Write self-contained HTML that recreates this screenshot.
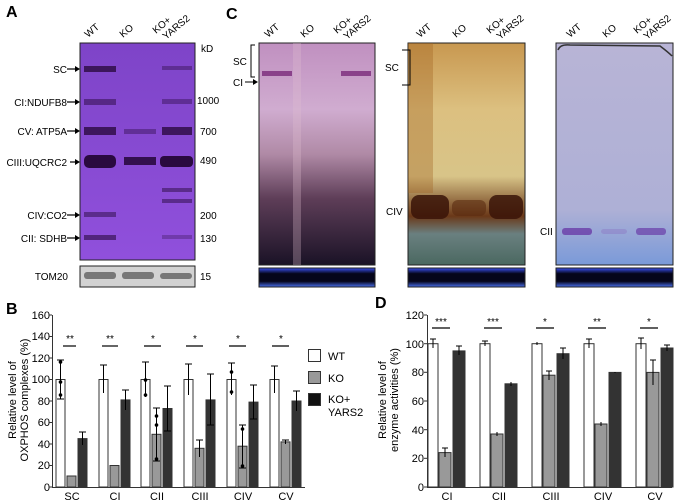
<!DOCTYPE html>
<html><head><meta charset="utf-8"><style>
html,body{margin:0;padding:0;background:#fff;}
svg{display:block;font-family:"Liberation Sans",Arial,sans-serif;}
</style></head><body>
<svg width="677" height="502" viewBox="0 0 677 502" xmlns="http://www.w3.org/2000/svg">
<defs>
<linearGradient id="gA" x1="0" y1="0" x2="0" y2="1"><stop offset="0" stop-color="#7e44c8"/><stop offset="1" stop-color="#9050dc"/></linearGradient>
<linearGradient id="gC1" x1="0" y1="0" x2="0" y2="1"><stop offset="0" stop-color="#c090c0"/><stop offset="0.3" stop-color="#d0acd0"/><stop offset="0.5" stop-color="#b08aa6"/><stop offset="0.7" stop-color="#5e3e58"/><stop offset="1" stop-color="#1a1226"/></linearGradient>
<linearGradient id="gC2" x1="0" y1="0" x2="0" y2="1"><stop offset="0" stop-color="#c89850"/><stop offset="0.3" stop-color="#dcc080"/><stop offset="0.6" stop-color="#d8c488"/><stop offset="0.78" stop-color="#6a3818"/><stop offset="0.86" stop-color="#6a8080"/><stop offset="1" stop-color="#4a6860"/></linearGradient>
<linearGradient id="gC3" x1="0" y1="0" x2="0" y2="1"><stop offset="0" stop-color="#b8b4d6"/><stop offset="0.75" stop-color="#aeb0d6"/><stop offset="1" stop-color="#7a9ad8"/></linearGradient>
<linearGradient id="gBl" x1="0" y1="0" x2="0" y2="1"><stop offset="0" stop-color="#3a50f0"/><stop offset="0.3" stop-color="#05051a"/><stop offset="0.7" stop-color="#05051a"/><stop offset="1" stop-color="#4a70f0"/></linearGradient>
</defs>

<!-- Panel A -->
<text x="6" y="17" font-size="16" font-weight="bold">A</text>
<g font-size="10">
<text transform="translate(88,38) rotate(-40)">WT</text>
<text transform="translate(123,38) rotate(-40)">KO</text>
<text transform="translate(156,34) rotate(-40)">KO+</text>
<text transform="translate(166,40) rotate(-40)">YARS2</text>
</g>
<rect x="80" y="43" width="115" height="217" fill="url(#gA)" stroke="#222" stroke-width="1"/>
<g fill="#2a0a40">
<rect x="84" y="66" width="32" height="6" opacity="0.8"/>
<rect x="162" y="66" width="30" height="4" opacity="0.4"/>
<rect x="84" y="99" width="32" height="6" opacity="0.5"/>
<rect x="162" y="99" width="30" height="5" opacity="0.4"/>
<rect x="84" y="127" width="32" height="8" opacity="0.8"/>
<rect x="124" y="129" width="32" height="5" opacity="0.4"/>
<rect x="162" y="127" width="30" height="8" opacity="0.8"/>
<rect x="84" y="155" width="32" height="13" rx="5" opacity="1"/>
<rect x="124" y="157" width="32" height="8" opacity="0.9"/>
<rect x="160" y="156" width="33" height="11" rx="4" opacity="1"/>
<rect x="162" y="188" width="30" height="4" opacity="0.5"/>
<rect x="162" y="199" width="30" height="4" opacity="0.5"/>
<rect x="84" y="212" width="32" height="5" opacity="0.5"/>
<rect x="84" y="235" width="32" height="5" opacity="0.6"/>
<rect x="162" y="235" width="30" height="4" opacity="0.3"/>
</g>
<rect x="80" y="266" width="115" height="21" fill="#d2d2d2" stroke="#222"/>
<g fill="#777"><rect x="84" y="272" width="32" height="7" rx="3"/><rect x="122" y="272" width="32" height="7" rx="3"/><rect x="160" y="273" width="32" height="6" rx="3"/></g>
<g font-size="10">
<text x="201" y="52">kD</text><text x="197" y="104">1000</text><text x="200" y="135">700</text><text x="200" y="164">490</text><text x="200" y="219">200</text><text x="200" y="242">130</text><text x="200" y="280">15</text>
</g>
<g font-size="10" text-anchor="end">
<text x="67" y="73">SC</text><text x="67" y="106">CI:NDUFB8</text><text x="67" y="135">CV: ATP5A</text><text x="67" y="166">CIII:UQCRC2</text><text x="67" y="219">CIV:CO2</text><text x="67" y="242">CII: SDHB</text>
<text x="68" y="280">TOM20</text>
</g>
<g stroke="#000" stroke-width="1.2">
<line x1="67" y1="69" x2="78" y2="69"/><line x1="67" y1="102" x2="78" y2="102"/><line x1="67" y1="131" x2="78" y2="131"/><line x1="70" y1="162" x2="78" y2="162"/><line x1="67" y1="215" x2="78" y2="215"/><line x1="67" y1="238" x2="78" y2="238"/>
</g>
<g fill="#000">
<polygon points="80,69 75,66 75,72"/><polygon points="80,102 75,99 75,105"/><polygon points="80,131 75,128 75,134"/><polygon points="80,162 75,159 75,165"/><polygon points="80,215 75,212 75,218"/><polygon points="80,238 75,235 75,241"/>
</g>

<!-- Panel C -->
<text x="226" y="19" font-size="16" font-weight="bold">C</text>
<g font-size="10">
<text transform="translate(268,38) rotate(-40)">WT</text>
<text transform="translate(304,38) rotate(-40)">KO</text>
<text transform="translate(337,34) rotate(-40)">KO+</text>
<text transform="translate(347,40) rotate(-40)">YARS2</text>
<text transform="translate(420,38) rotate(-40)">WT</text>
<text transform="translate(456,38) rotate(-40)">KO</text>
<text transform="translate(490,34) rotate(-40)">KO+</text>
<text transform="translate(500,40) rotate(-40)">YARS2</text>
<text transform="translate(570,38) rotate(-40)">WT</text>
<text transform="translate(606,38) rotate(-40)">KO</text>
<text transform="translate(637,34) rotate(-40)">KO+</text>
<text transform="translate(647,40) rotate(-40)">YARS2</text>
</g>
<rect x="259" y="43" width="116" height="222" fill="url(#gC1)" stroke="#222"/>
<rect x="262" y="71" width="30" height="5" fill="#7a2a7a" opacity="0.8"/>
<rect x="341" y="71" width="30" height="5" fill="#7a2a7a" opacity="0.8"/>
<rect x="293" y="43" width="8" height="222" fill="#e0c0d0" opacity="0.3"/>
<rect x="259" y="268" width="116" height="19" fill="url(#gBl)" stroke="#222"/>
<g font-size="10"><text x="233" y="65">SC</text><text x="233" y="86">CI</text></g>
<path d="M255,45 H251 V77 H255" fill="none" stroke="#000"/>
<line x1="245" y1="82" x2="254" y2="82" stroke="#000"/><polygon points="258,82 253,79 253,85"/>
<rect x="408" y="43" width="117" height="222" fill="url(#gC2)" stroke="#222"/>
<rect x="411" y="195" width="38" height="24" rx="8" fill="#3a1408" opacity="0.85"/>
<rect x="452" y="200" width="34" height="16" rx="6" fill="#5a2c10" opacity="0.6"/>
<rect x="489" y="195" width="34" height="24" rx="8" fill="#3a1408" opacity="0.85"/>
<rect x="408" y="43" width="25" height="150" fill="#a06020" opacity="0.35"/>
<rect x="408" y="268" width="117" height="19" fill="url(#gBl)" stroke="#222"/>
<text x="385" y="71" font-size="10">SC</text>
<path d="M402,50 H410 V85 H402" fill="none" stroke="#000"/>
<text x="386" y="215" font-size="10">CIV</text>
<rect x="556" y="43" width="117" height="222" fill="url(#gC3)" stroke="#222"/>
<path d="M558,50 Q560,44 570,45 L660,46 Q668,52 672,56" fill="none" stroke="#333" stroke-width="1.5"/>
<rect x="562" y="228" width="30" height="7" rx="3" fill="#6a3ca8" opacity="0.8"/>
<rect x="601" y="229" width="26" height="5" rx="3" fill="#8a70c0" opacity="0.4"/>
<rect x="636" y="228" width="30" height="7" rx="3" fill="#6a3ca8" opacity="0.7"/>
<rect x="556" y="268" width="117" height="19" fill="url(#gBl)" stroke="#222"/>
<text x="540" y="235" font-size="10">CII</text>

<!-- Panel B -->
<text x="6" y="314" font-size="16" font-weight="bold">B</text>
<g font-size="11" text-anchor="end" fill="#000">
<text x="50" y="491">0</text><text x="50" y="469">20</text><text x="50" y="448">40</text><text x="50" y="426">60</text><text x="50" y="405">80</text><text x="50" y="383">100</text><text x="50" y="362">120</text><text x="50" y="340">140</text><text x="50" y="319">160</text>
</g>
<g stroke="#333" stroke-width="1">
<line x1="52.5" y1="315" x2="52.5" y2="487"/><line x1="52" y1="487.5" x2="305" y2="487.5"/>
<line x1="49" y1="487" x2="52" y2="487"/><line x1="49" y1="465.5" x2="52" y2="465.5"/><line x1="49" y1="444" x2="52" y2="444"/><line x1="49" y1="422.5" x2="52" y2="422.5"/><line x1="49" y1="401" x2="52" y2="401"/><line x1="49" y1="379.5" x2="52" y2="379.5"/><line x1="49" y1="358" x2="52" y2="358"/><line x1="49" y1="336.5" x2="52" y2="336.5"/><line x1="49" y1="315" x2="52" y2="315"/>
</g>
<text transform="translate(16,400) rotate(-90)" font-size="11" text-anchor="middle">Relative level of</text>
<text transform="translate(28,400) rotate(-90)" font-size="11" text-anchor="middle">OXPHOS complexes (%)</text>
<g font-size="11" text-anchor="middle">
<text x="72" y="500">SC</text><text x="115" y="500">CI</text><text x="157" y="500">CII</text><text x="200" y="500">CIII</text><text x="243" y="500">CIV</text><text x="286" y="500">CV</text>
</g>
<rect x="308.5" y="349.5" width="12" height="12" fill="#fff" stroke="#333"/>
<rect x="308.5" y="371.5" width="12" height="12" fill="#999" stroke="#333"/>
<rect x="308.5" y="393.5" width="12" height="12" fill="#111" stroke="#333"/>
<g font-size="11"><text x="328" y="360">WT</text><text x="328" y="382">KO</text><text x="328" y="403">KO+</text><text x="328" y="416">YARS2</text></g>

<!-- Panel D -->
<text x="375" y="308" font-size="16" font-weight="bold">D</text>
<g font-size="11" text-anchor="end">
<text x="424" y="491">0</text><text x="424" y="462">20</text><text x="424" y="434">40</text><text x="424" y="405">60</text><text x="424" y="376">80</text><text x="424" y="348">100</text><text x="424" y="319">120</text>
</g>
<g stroke="#333">
<line x1="427.5" y1="315" x2="427.5" y2="487"/><line x1="427" y1="487.5" x2="672" y2="487.5"/>
<line x1="424" y1="487" x2="427" y2="487"/><line x1="424" y1="458.3" x2="427" y2="458.3"/><line x1="424" y1="429.7" x2="427" y2="429.7"/><line x1="424" y1="401" x2="427" y2="401"/><line x1="424" y1="372.3" x2="427" y2="372.3"/><line x1="424" y1="343.7" x2="427" y2="343.7"/><line x1="424" y1="315" x2="427" y2="315"/>
</g>
<text transform="translate(386,400) rotate(-90)" font-size="11" text-anchor="middle">Relative level of</text>
<text transform="translate(398,400) rotate(-90)" font-size="11" text-anchor="middle">enzyme activities (%)</text>
<g font-size="11" text-anchor="middle">
<text x="447" y="500">CI</text><text x="499" y="500">CII</text><text x="551" y="500">CIII</text><text x="603" y="500">CIV</text><text x="655" y="500">CV</text>
</g>

<g stroke="#333" stroke-width="1">
<rect x="56" y="379.5" width="9" height="107.5" fill="#fff"/><rect x="67" y="476" width="9" height="11" fill="#999"/><rect x="78" y="438.6" width="9" height="48.4" fill="#333"/>
<rect x="99" y="379.5" width="9" height="107.5" fill="#fff"/><rect x="110" y="465.5" width="9" height="21.5" fill="#999"/><rect x="121" y="399.9" width="9" height="87.1" fill="#333"/>
<rect x="141" y="379.5" width="9" height="107.5" fill="#fff"/><rect x="152" y="434.3" width="9" height="52.7" fill="#999"/><rect x="163" y="408.5" width="9" height="78.5" fill="#333"/>
<rect x="184" y="379.5" width="9" height="107.5" fill="#fff"/><rect x="195" y="448.3" width="9" height="38.7" fill="#999"/><rect x="206" y="399.9" width="9" height="87.1" fill="#333"/>
<rect x="227" y="379.5" width="9" height="107.5" fill="#fff"/><rect x="238" y="446.2" width="9" height="40.8" fill="#999"/><rect x="249" y="402.1" width="9" height="84.9" fill="#333"/>
<rect x="270" y="379.5" width="9" height="107.5" fill="#fff"/><rect x="281" y="441.9" width="9" height="45.1" fill="#999"/><rect x="292" y="401" width="9" height="86" fill="#333"/>
</g>
<g stroke="#000" stroke-width="1">
<path d="M60.5,360 V399 M57,360 H64 M57,399 H64"/><path d="M82.5,432 V445 M79,432 H86"/>
<path d="M103.5,365 V393 M100,365 H107"/><path d="M125.5,390 V410 M122,390 H129"/>
<path d="M145.5,362 V397 M142,362 H149"/><path d="M156.5,408 V461 M153,408 H160 M153,461 H160"/><path d="M167.5,386 V431 M164,386 H171 M164,431 H171"/>
<path d="M188.5,364 V395 M185,364 H192"/><path d="M199.5,440 V457 M196,440 H203"/><path d="M210.5,374 V425 M207,374 H214 M207,425 H214"/>
<path d="M231.5,363 V395 M228,363 H235"/><path d="M242.5,425 V468 M239,425 H246 M239,468 H246"/><path d="M253.5,385 V419 M250,385 H257 M250,419 H257"/>
<path d="M274.5,366 V393 M271,366 H278"/><path d="M285.5,440 V444 M282,440 H289"/><path d="M296.5,391 V411 M293,391 H300"/>
</g>
<g fill="#000">
<circle cx="60.5" cy="362" r="1.8"/><circle cx="60.5" cy="395" r="1.8"/><circle cx="60.5" cy="382" r="1.8"/>
<circle cx="145.5" cy="380" r="1.8"/><circle cx="145.5" cy="395" r="1.8"/><circle cx="156.5" cy="416" r="1.8"/><circle cx="156.5" cy="459" r="1.8"/><circle cx="156.5" cy="425" r="1.8"/>
<circle cx="242.5" cy="429" r="1.8"/><circle cx="242.5" cy="466" r="1.8"/><circle cx="231.5" cy="372" r="1.8"/><circle cx="231.5" cy="392" r="1.8"/>
</g>
<g stroke="#000" stroke-width="1.2">
<line x1="63" y1="346" x2="76" y2="346"/><line x1="102" y1="346" x2="118" y2="346"/><line x1="144" y1="346" x2="161" y2="346"/><line x1="186" y1="346" x2="203" y2="346"/><line x1="229" y1="346" x2="246" y2="346"/><line x1="272" y1="346" x2="289" y2="346"/>
</g>
<g font-size="10" text-anchor="middle"><text x="70" y="342">**</text><text x="110" y="342">**</text><text x="153" y="342">*</text><text x="195" y="342">*</text><text x="238" y="342">*</text><text x="281" y="342">*</text></g>

<g stroke="#333">
<rect x="428" y="343.7" width="10" height="143.3" fill="#fff"/><rect x="439" y="452.6" width="12" height="34.4" fill="#999"/><rect x="453" y="350.9" width="12" height="136.1" fill="#333"/>
<rect x="480" y="343.7" width="10" height="143.3" fill="#fff"/><rect x="491" y="434" width="12" height="53" fill="#999"/><rect x="505" y="383.8" width="12" height="103.2" fill="#333"/>
<rect x="532" y="343.7" width="10" height="143.3" fill="#fff"/><rect x="543" y="375.2" width="12" height="111.8" fill="#999"/><rect x="557" y="353.7" width="12" height="133.3" fill="#333"/>
<rect x="584" y="343.7" width="10" height="143.3" fill="#fff"/><rect x="595" y="424" width="12" height="63" fill="#999"/><rect x="609" y="372.4" width="12" height="114.6" fill="#333"/>
<rect x="636" y="343.7" width="10" height="143.3" fill="#fff"/><rect x="647" y="372.4" width="12" height="114.6" fill="#999"/><rect x="661" y="348" width="12" height="139" fill="#333"/>
</g>
<g stroke="#000">
<path d="M433,339 V348 M430,339 H436"/><path d="M445,448 V457 M442,448 H448"/><path d="M459,346 V355 M456,346 H462"/>
<path d="M485,341 V346 M482,341 H488"/><path d="M497,432 V436"/><path d="M511,382 V386"/>
<path d="M537,342 V345"/><path d="M549,371 V380 M546,371 H552"/><path d="M563,348 V359 M560,348 H566"/>
<path d="M589,339 V348 M586,339 H592"/><path d="M601,422 V426"/><path d="M615,372 V373"/>
<path d="M641,338 V349 M638,338 H644"/><path d="M653,360 V385 M650,360 H656"/><path d="M667,345 V351 M664,345 H670"/>
</g>
<g stroke="#000" stroke-width="1.2">
<line x1="432" y1="328" x2="450" y2="328"/><line x1="484" y1="328" x2="502" y2="328"/><line x1="536" y1="328" x2="554" y2="328"/><line x1="588" y1="328" x2="606" y2="328"/><line x1="640" y1="328" x2="658" y2="328"/>
</g>
<g font-size="10" text-anchor="middle"><text x="441" y="325">***</text><text x="493" y="325">***</text><text x="545" y="325">*</text><text x="597" y="325">**</text><text x="649" y="325">*</text></g>
</svg>
</body></html>
